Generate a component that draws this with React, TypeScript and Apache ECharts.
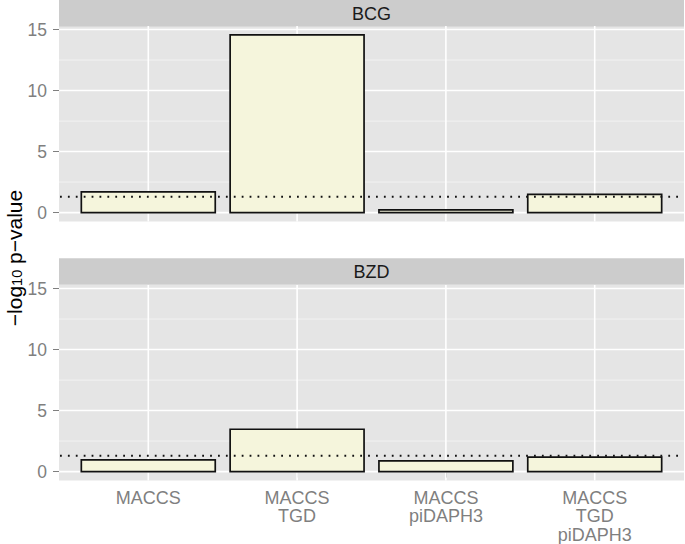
import React, { useEffect, useRef } from "react";
import * as echarts from "echarts";

const categories = ["MACCS", "MACCS\nTGD", "MACCS\npiDAPH3", "MACCS\nTGD\npiDAPH3"];
const panels = ["BCG", "BZD"];
const bcgValues = [1.7, 14.56, 0.22, 1.5];
const bzdValues = [0.96, 3.47, 0.88, 1.18];
const threshold = 1.3;
const yTicks = [0, 5, 10, 15];
const yMinor = [2.5, 7.5, 12.5];
const xTicks = [1, 2, 3, 4];

const X_MIN = 0.4;
const X_MAX = 4.6;
const Y_MIN = -0.73;
const Y_MAX = 15.29;

const FONT = "Liberation Sans, Arial, Helvetica, sans-serif";
const PANEL_BG = "#E5E5E5";
const STRIP_BG = "#CCCCCC";
const GREY = "#7F7F7F";

export default function App() {
  const ref = useRef<HTMLDivElement>(null);

  useEffect(() => {
    if (!ref.current) return;
    const chart = echarts.init(ref.current, undefined, { renderer: "svg" });

    const grids = [
      { left: 59, right: 1, top: 26, height: 195.5 },
      { left: 59, right: 1, top: 285, height: 195.5 },
    ];

    const valuesList = [bcgValues, bzdValues];

    const hLine = (color: string, width: number) => (params: any, api: any) => {
      const y = api.value(0);
      const p0 = api.coord([X_MIN, y]);
      const p1 = api.coord([X_MAX, y]);
      return {
        type: "line",
        shape: { x1: p0[0], y1: p0[1], x2: p1[0], y2: p1[1] },
        style: { stroke: color, lineWidth: width },
        silent: true,
      };
    };
    const vLine = (color: string, width: number) => (params: any, api: any) => {
      const x = api.value(0);
      const p0 = api.coord([x, Y_MIN]);
      const p1 = api.coord([x, Y_MAX]);
      return {
        type: "line",
        shape: { x1: p0[0], y1: p0[1], x2: p1[0], y2: p1[1] },
        style: { stroke: color, lineWidth: width },
        silent: true,
      };
    };

    const series: any[] = [];
    valuesList.forEach((vals, gi) => {
      const base = { type: "custom", xAxisIndex: gi, yAxisIndex: gi, silent: true, clip: false };
      series.push({
        ...base,
        z: 1,
        dimensions: ["y"],
        encode: { y: 0 },
        data: yMinor.map((v) => [v]),
        renderItem: hLine("#F2F2F2", 1),
      });
      series.push({
        ...base,
        z: 1,
        dimensions: ["y"],
        encode: { y: 0 },
        data: yTicks.map((v) => [v]),
        renderItem: hLine("#FFFFFF", 1.6),
      });
      series.push({
        ...base,
        z: 1,
        dimensions: ["x"],
        encode: { x: 0 },
        data: xTicks.map((v) => [v]),
        renderItem: vLine("#FFFFFF", 1.6),
      });
      series.push({
        ...base,
        z: 3,
        dimensions: ["x", "y"],
        encode: { x: 0, y: 1 },
        data: vals.map((v, i) => [i + 1, v]),
        renderItem: (params: any, api: any) => {
          const x = api.value(0);
          const v = api.value(1);
          const p0 = api.coord([x - 0.45, v]);
          const p1 = api.coord([x + 0.45, 0]);
          return {
            type: "rect",
            shape: { x: p0[0], y: p0[1], width: p1[0] - p0[0], height: p1[1] - p0[1] },
            style: { fill: "#F5F5DC", stroke: "#111111", lineWidth: 1.7 },
          };
        },
      });
      series.push({
        ...base,
        z: 5,
        dimensions: ["y"],
        encode: { y: 0 },
        data: [[threshold]],
        renderItem: (params: any, api: any) => {
          const y = api.value(0);
          const p0 = api.coord([X_MIN, y]);
          const p1 = api.coord([X_MAX, y]);
          return {
            type: "line",
            shape: { x1: p0[0] + 1, y1: p0[1], x2: p1[0], y2: p1[1] },
            style: { stroke: "#111111", lineWidth: 1.8, lineDash: [1.8, 6.1] },
          };
        },
      });
    });

    const xAxis = grids.map((g, gi) => ({
      type: "value",
      gridIndex: gi,
      min: X_MIN,
      max: X_MAX,
      axisLine: { show: false },
      splitLine: { show: false },
      axisTick: {
        show: gi === 1,
        customValues: xTicks,
        length: 6,
        lineStyle: { color: GREY, width: 1 },
      },
      axisLabel: {
        show: gi === 1,
        customValues: xTicks,
        margin: 8,
        color: GREY,
        fontSize: 18,
        lineHeight: 18.5,
        fontFamily: FONT,
        formatter: (v: number) => categories[Math.round(v) - 1] ?? "",
      },
    }));

    const yAxis = grids.map((g, gi) => ({
      type: "value",
      gridIndex: gi,
      min: Y_MIN,
      max: Y_MAX,
      axisLine: { show: false },
      splitLine: { show: false },
      axisTick: {
        show: true,
        customValues: yTicks,
        length: 6,
        lineStyle: { color: GREY, width: 1 },
      },
      axisLabel: {
        customValues: yTicks,
        margin: 12,
        color: GREY,
        fontSize: 17.5,
        fontFamily: FONT,
      },
    }));

    const stripTops = [0, 258.3];
    const graphic: any[] = [];
    panels.forEach((p, i) => {
      graphic.push({
        type: "rect",
        shape: { x: 59, y: stripTops[i], width: 625, height: 26.5 },
        style: { fill: STRIP_BG },
        silent: true,
      });
      graphic.push({
        type: "text",
        x: 371.5,
        y: stripTops[i] + 14,
        style: {
          text: p,
          fill: "#1A1A1A",
          font: `18px ${FONT}`,
          textAlign: "center",
          textVerticalAlign: "middle",
        },
        silent: true,
      });
    });
    graphic.push({
      type: "text",
      x: 13,
      y: 258,
      rotation: Math.PI / 2,
      style: {
        text: "{a|−log}{s|10}{a| p−value}",
        textAlign: "center",
        textVerticalAlign: "middle",
        rich: {
          a: { fontSize: 21, fontFamily: FONT, fill: "#000000", lineHeight: 23, verticalAlign: "bottom" },
          s: { fontSize: 14.5, fontFamily: FONT, fill: "#000000", lineHeight: 13, verticalAlign: "bottom" },
        },
      },
      silent: true,
    });

    chart.setOption({
      animation: false,
      backgroundColor: "#FFFFFF",
      grid: grids.map((g) => ({
        ...g,
        show: true,
        backgroundColor: PANEL_BG,
        borderWidth: 0,
        containLabel: false,
      })),
      xAxis,
      yAxis,
      series,
      graphic,
    });

    return () => {
      chart.dispose();
    };
  }, []);

  return (
    <div
      ref={ref}
      style={{ position: "fixed", left: 0, top: 0, width: 685, height: 544 }}
    />
  );
}
